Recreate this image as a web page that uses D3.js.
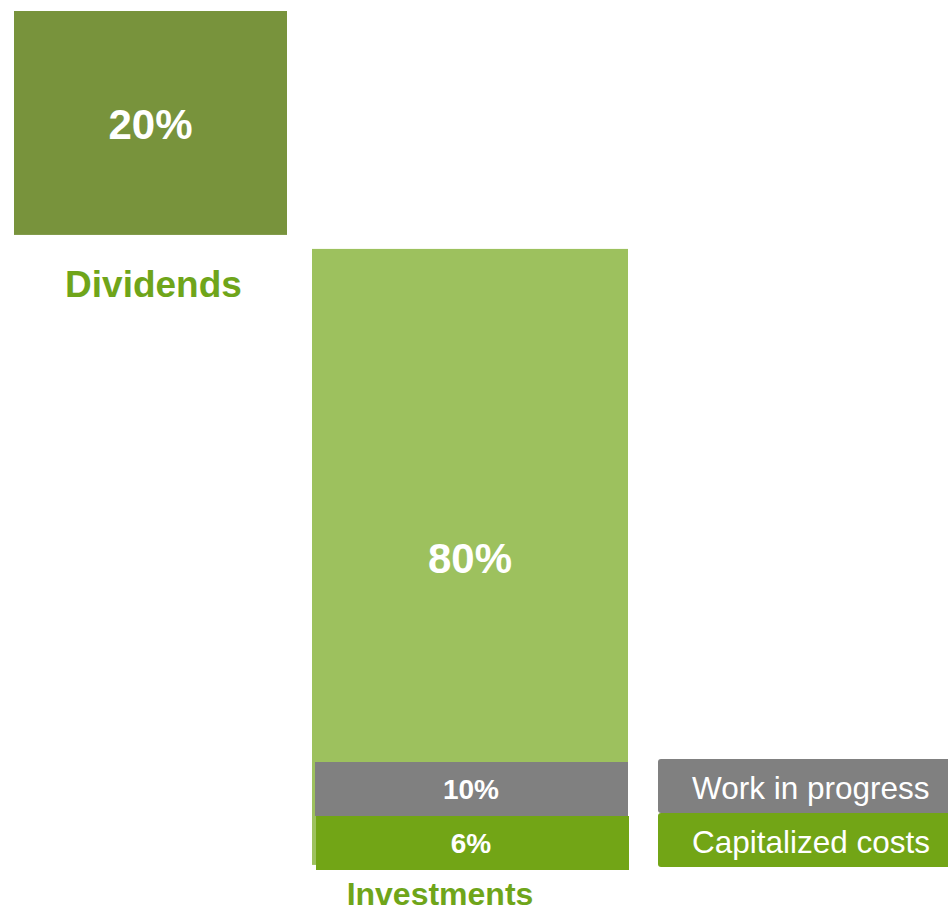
<!DOCTYPE html>
<html>
<head>
<meta charset="utf-8">
<script src="https://cdn.jsdelivr.net/npm/d3@7"></script>
<style>
  html, body { margin: 0; padding: 0; background: #ffffff; }
  svg { display: block; font-family: "Liberation Sans", Arial, sans-serif; }
</style>
</head>
<body>
<svg id="chart" width="948" height="910"></svg>
<script>
// Profit allocation: share paid out vs. share reinvested
const categories = ["Dividends", "Investments"];
const shares = [20, 80];

// Breakdown shown at the foot of the investments column
const breakdownLabels = ["Work in progress", "Capitalized costs"];
const breakdownShares = [10, 6];

const colors = {
  Dividends: "#78933c",
  Investments: "#9dc15e",
  "Work in progress": "#808080",
  "Capitalized costs": "#72a516",
  label: "#6fa51a"
};

const svg = d3.select("#chart");
const fmt = v => v + "%";

// Column extents for the two waterfall columns and the legend column
const col = d3.scaleOrdinal()
  .domain([...categories, "legend"])
  .range([[14, 287], [312, 628], [658, 960]]);

// Bar length scale (compressed so the small share stays legible)
const len = d3.scalePow().exponent(0.73).domain([0, 80]).range([0, 616]);

// Waterfall: each column starts where the previous one ended
const top0 = 11, gap = 14;
let cursor = top0;
const bars = categories.map((c, i) => {
  const h = len(shares[i]);
  const b = { cat: c, value: shares[i], y: cursor, h };
  cursor += h + gap;
  return b;
});

const capMid = fs => 0.36 * fs;

svg.append("g").selectAll("rect")
  .data(bars)
  .join("rect")
  .attr("x", d => col(d.cat)[0])
  .attr("width", d => col(d.cat)[1] - col(d.cat)[0])
  .attr("y", d => d.y)
  .attr("height", d => d.h)
  .attr("fill", d => colors[d.cat]);

svg.append("g").selectAll("text")
  .data(bars)
  .join("text")
  .attr("x", d => (col(d.cat)[0] + col(d.cat)[1]) / 2)
  .attr("y", d => d.y + d.h / 2 + capMid(42) + 1)
  .attr("text-anchor", "middle")
  .attr("font-size", 42)
  .attr("font-weight", "bold")
  .attr("fill", "#ffffff")
  .text(d => fmt(d.value));

// Breakdown rows shared by the bar segments and the legend
const rows = d3.scaleBand().domain(breakdownLabels).range([759, 867]);
const segRows = d3.scaleBand().domain(breakdownLabels).range([762, 870]);
const rowData = breakdownLabels.map((l, i) => ({ label: l, value: breakdownShares[i] }));

const inv = col("Investments");
svg.append("g").selectAll("rect")
  .data(rowData)
  .join("rect")
  .attr("x", (d, i) => inv[0] + 3 + i)
  .attr("width", inv[1] - inv[0] - 3)
  .attr("y", d => segRows(d.label))
  .attr("height", segRows.bandwidth())
  .attr("fill", d => colors[d.label]);

svg.append("g").selectAll("text")
  .data(rowData)
  .join("text")
  .attr("x", (inv[0] + inv[1]) / 2 + 1)
  .attr("y", d => segRows(d.label) + segRows.bandwidth() / 2 + capMid(28))
  .attr("text-anchor", "middle")
  .attr("font-size", 28)
  .attr("font-weight", "bold")
  .attr("fill", "#ffffff")
  .text(d => fmt(d.value));

// Legend
const leg = col("legend");
svg.append("g").selectAll("rect")
  .data(rowData)
  .join("rect")
  .attr("x", leg[0])
  .attr("width", leg[1] - leg[0])
  .attr("y", d => rows(d.label))
  .attr("height", rows.bandwidth())
  .attr("rx", 3)
  .attr("fill", d => colors[d.label]);

svg.append("g").selectAll("text")
  .data(rowData)
  .join("text")
  .attr("x", leg[0] + 34)
  .attr("y", d => rows(d.label) + rows.bandwidth() / 2 + capMid(31.5) + 1.5)
  .attr("font-size", 31.5)
  .attr("fill", "#ffffff")
  .text(d => d.label);

// Category captions under each column
const caption = {
  Dividends: { size: 37, dy: 62, dx: 3 },
  Investments: { size: 32, dy: 40, dx: -30 }
};
svg.append("g").selectAll("text")
  .data(bars)
  .join("text")
  .attr("x", d => (col(d.cat)[0] + col(d.cat)[1]) / 2 + caption[d.cat].dx)
  .attr("y", d => d.y + d.h + caption[d.cat].dy)
  .attr("text-anchor", "middle")
  .attr("font-size", d => caption[d.cat].size)
  .attr("font-weight", "bold")
  .attr("fill", colors.label)
  .text(d => d.cat);
</script>
</body>
</html>
